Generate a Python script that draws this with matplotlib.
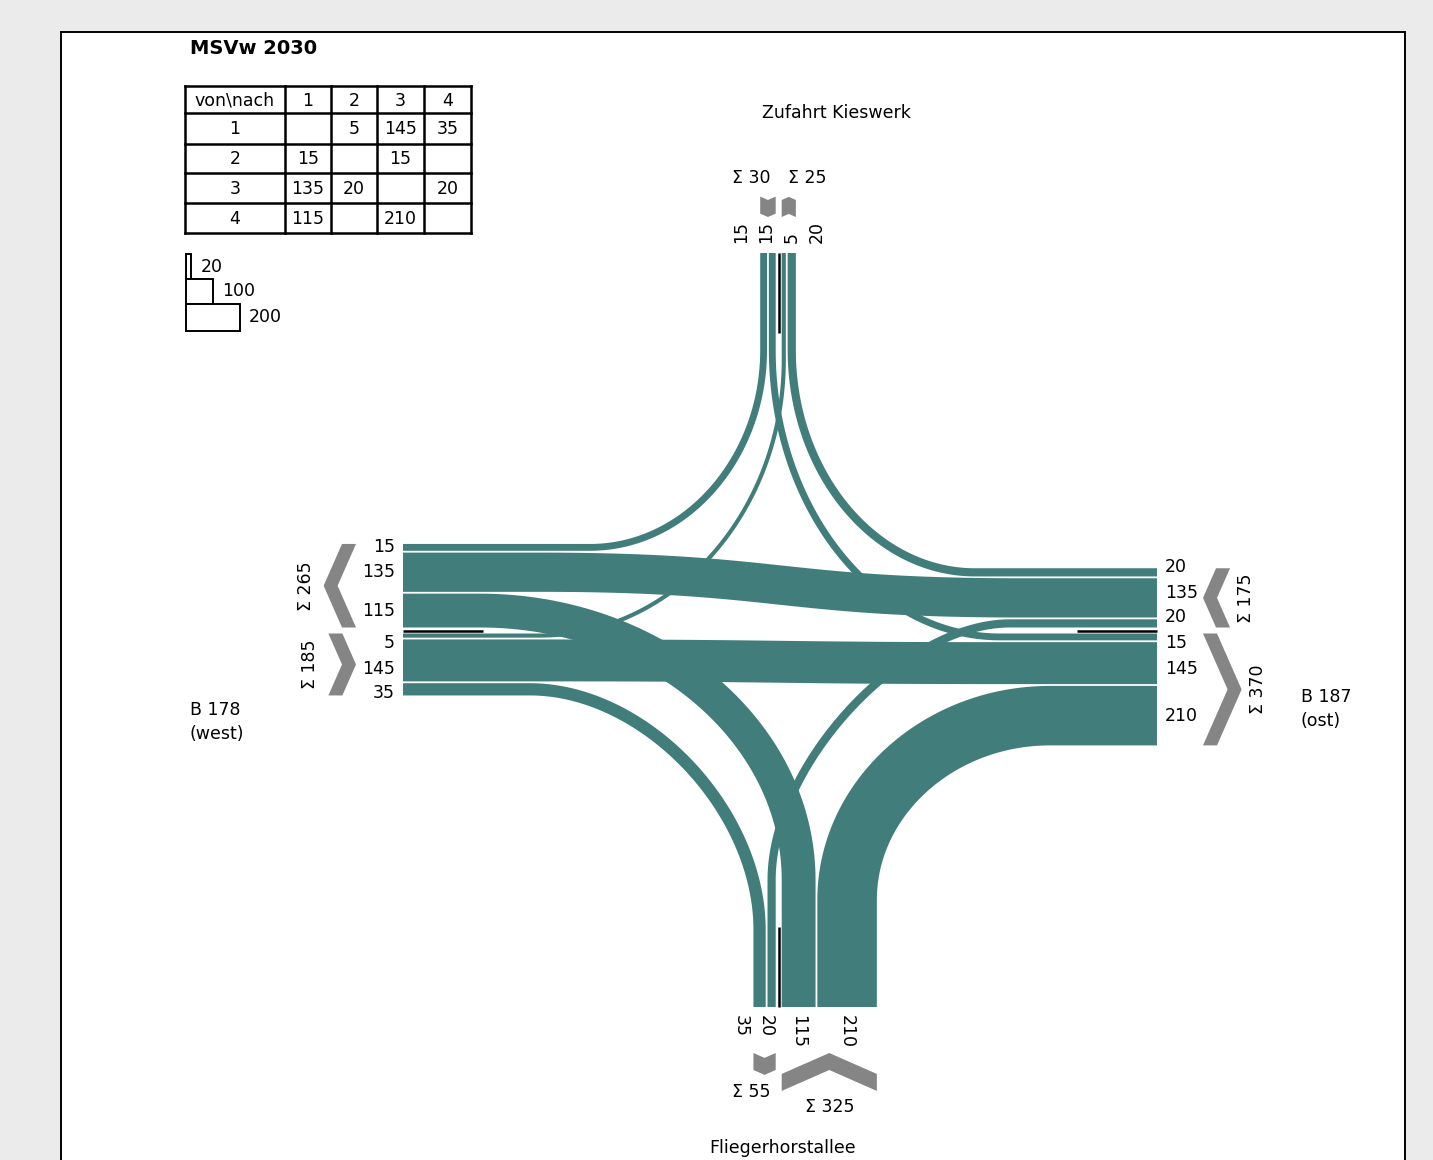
import numpy as np
import matplotlib.pyplot as plt
from matplotlib.patches import Polygon, Rectangle

# Knotenstrombelastung MSVw 2030
title = "MSVw 2030"
zones = [1, 2, 3, 4]
# rows = von, cols = nach
flows = np.array([[0, 5, 145, 35],
                  [15, 0, 15, 0],
                  [135, 20, 0, 20],
                  [115, 0, 210, 0]])
legend_vals = [20, 100, 200]
arm_west = ["B 178", "(west)"]
arm_north = "Zufahrt Kieswerk"
arm_east = ["B 187", "(ost)"]
arm_south = "Fliegerhorstallee"

TEAL = '#417e7b'
GREY = '#858585'
FS = 12.5

K, PAD, GAP, HALF = 0.27, 2.8, 1.8, 3.0
XL, XR, YT, YB = 403, 1157, 253, 1007
XC, YC = 778.7, 630.5


def q(a, b):
    return flows[a - 1, b - 1]


def wid(v):
    return K * v + PAD


# lanes from centre line outward (left turns inside, right turns outside)
lanes = {
    'W_in': ([(4, 1), (3, 1), (2, 1)], -1, YC),
    'W_out': ([(1, 2), (1, 3), (1, 4)], 1, YC),
    'E_out': ([(3, 4), (3, 1), (3, 2)], -1, YC),
    'E_in': ([(2, 3), (1, 3), (4, 3)], 1, YC),
    'N_out': ([(2, 3), (2, 1)], -1, XC),
    'N_in': ([(1, 2), (3, 2)], 1, XC),
    'S_in': ([(3, 4), (1, 4)], -1, XC),
    'S_out': ([(4, 1), (4, 3)], 1, XC),
}
arm_of = {1: 'W', 2: 'N', 3: 'E', 4: 'S'}

pos = {}
groups = {}
for key, (order, sign, c0) in lanes.items():
    p = c0 + sign * HALF
    start = p
    for f in order:
        w = wid(q(*f))
        pos[(f, key[0])] = p + sign * w / 2
        p = p + sign * w
        end = p
        p += sign * GAP
    groups[key] = (min(start, end), max(start, end))


def bez(p0, c1, c2, p3, n=80):
    t = np.linspace(0, 1, n)[:, None]
    return ((1 - t) ** 3 * p0 + 3 * (1 - t) ** 2 * t * c1
            + 3 * (1 - t) * t ** 2 * c2 + t ** 3 * p3)


def seg(a, b, n=10):
    t = np.linspace(0, 1, n)[:, None]
    return a + (b - a) * t


def ribbon(pts, w, ax):
    keep = np.r_[True, np.any(np.abs(np.diff(pts, axis=0)) > 1e-9, axis=1)]
    pts = pts[keep]
    d = np.gradient(pts, axis=0)
    d /= np.hypot(d[:, 0], d[:, 1])[:, None]
    nrm = np.c_[-d[:, 1], d[:, 0]]
    h = w / 2
    poly = np.vstack([pts + nrm * h, (pts - nrm * h)[::-1]])
    ax.add_patch(Polygon(poly, closed=True, fc=TEAL, ec='none', lw=0, zorder=2))


# curve start points: (x where horizontal leg ends, y where vertical leg ends, k)
turns = {(1, 2): (540, 360, .55), (1, 4): (530, 930, .5),
         (2, 1): (590, 350, .55), (2, 3): (1000, 350, .55),
         (3, 2): (975, 350, .55), (3, 4): (1010, 880, .45),
         (4, 1): (480, 880, .55), (4, 3): (1050, 900, .55)}
straights = {(1, 3): (560, 1000, .5), (3, 1): (540, 1020, .5)}
xarm = {'W': XL, 'E': XR}
yarm = {'N': YT, 'S': YB}

fig = plt.figure(figsize=(14.33, 11.6), dpi=100, facecolor='#ebebeb')
ax = fig.add_axes([0, 0, 1, 1])
ax.set_xlim(0, 1433)
ax.set_ylim(1160, 0)
ax.axis('off')
ax.add_patch(Rectangle((61, 32), 1344, 1200, fc='white', ec='black', lw=1.4, zorder=0))

for a in zones:
    for b in zones:
        v = q(a, b)
        if v == 0:
            continue
        f = (a, b)
        w = wid(v)
        if f in straights:
            x0, x1, k = straights[f]
            yl, yr = pos[(f, 'W')], pos[(f, 'E')]
            A, P0 = np.array([XL, yl]), np.array([x0, yl])
            P3, B = np.array([x1, yr]), np.array([XR, yr])
            dx = x1 - x0
            pts = np.vstack([seg(A, P0), bez(P0, P0 + [k * dx, 0], P3 - [k * dx, 0], P3), seg(P3, B)])
        else:
            xh, yv, k = turns[f]
            ha_ = arm_of[a] if arm_of[a] in 'WE' else arm_of[b]
            va_ = arm_of[b] if ha_ == arm_of[a] else arm_of[a]
            yh, xv = pos[(f, ha_)], pos[(f, va_)]
            A, P0 = np.array([xarm[ha_], yh]), np.array([xh, yh])
            C = np.array([xv, yh])
            P3, B = np.array([xv, yv]), np.array([xv, yarm[va_]])
            pts = np.vstack([seg(A, P0), bez(P0, P0 + k * (C - P0), P3 + k * (C - P3), P3), seg(P3, B)])
        ribbon(pts, w, ax)

# separators
ax.plot([XL, XL + 80], [YC, YC], color='black', lw=1.8, zorder=3, solid_capstyle='butt')
ax.plot([XR - 80, XR], [YC, YC], color='black', lw=1.8, zorder=3, solid_capstyle='butt')
ax.plot([XC, XC], [YT, YT + 80], color='black', lw=1.8, zorder=3, solid_capstyle='butt')
ax.plot([XC, XC], [YB - 80, YB], color='black', lw=1.8, zorder=3, solid_capstyle='butt')


def spread(cs, sign, c0, first=13, step=25):
    out = []
    lim = c0 + sign * first
    for c in cs:
        p = c if (c - lim) * sign >= 0 else lim
        out.append(p)
        lim = p + sign * step
    return out


# lane labels
for key, (order, sign, c0) in lanes.items():
    arm = key[0]
    cs = [pos[(f, arm)] for f in order]
    ps = spread(cs, sign, c0)
    for f, p in zip(order, ps):
        s = str(q(*f))
        if arm == 'W':
            ax.text(XL - 8, p, s, ha='right', va='center', fontsize=FS)
        elif arm == 'E':
            ax.text(XR + 8, p, s, ha='left', va='center', fontsize=FS)
        elif arm == 'N':
            ax.text(p, YT - 10, s, ha='center', va='bottom', rotation=90, fontsize=FS)
        else:
            ax.text(p, YB + 8, s, ha='center', va='top', rotation=-90, fontsize=FS)


def chevron(lo, hi, back, s, t, d, horiz):
    m = (lo + hi) / 2
    pts = [(back, lo), (back + s * t, lo), (back + s * (t + d), m),
           (back + s * t, hi), (back, hi), (back + s * d, m)]
    if not horiz:
        pts = [(y, x) for x, y in pts]
    ax.add_patch(Polygon(pts, closed=True, fc=GREY, ec='none', zorder=2))


# sums with chevrons: (group, anchor, away sign, thickness)
chev = {'W_in': (356, -1, 14), 'W_out': (356, -1, 14),
        'E_out': (1203, 1, 14), 'E_in': (1203, 1, 14),
        'N_out': (217, -1, 17), 'N_in': (217, -1, 17),
        'S_in': (1053, 1, 17), 'S_out': (1053, 1, 17)}
for key, (anchor, away, t) in chev.items():
    order = lanes[key][0]
    total = sum(q(*f) for f in order)
    lo, hi = groups[key]
    d = 0.22 * (hi - lo)
    s = away if key.endswith('in') else -away
    back = anchor if s == away else anchor - s * (t + d)
    horiz = key[0] in 'WE'
    chevron(lo, hi, back, s, t, d, horiz)
    far = anchor + away * (t + d)
    lab = f'\u03a3 {total}'
    m = (lo + hi) / 2
    if key[0] == 'W':
        ax.text(far - 18, m, lab, rotation=90, ha='center', va='center', fontsize=FS)
    elif key[0] == 'E':
        ax.text(far + 16, m, lab, rotation=90, ha='center', va='center', fontsize=FS)
    elif key[0] == 'N':
        if key == 'N_out':
            ax.text(XC - 8, far - 19, lab, ha='right', va='center', fontsize=FS)
        else:
            ax.text(XC + 9, far - 19, lab, ha='left', va='center', fontsize=FS)
    else:
        if key == 'S_in':
            ax.text(XC - 8, far + 17, lab, ha='right', va='center', fontsize=FS)
        else:
            ax.text(m, far + 16, lab, ha='center', va='center', fontsize=FS)

# arm names
ax.text(190, 710, arm_west[0], ha='left', va='center', fontsize=FS)
ax.text(190, 734, arm_west[1], ha='left', va='center', fontsize=FS)
ax.text(1301, 697, arm_east[0], ha='left', va='center', fontsize=FS)
ax.text(1301, 721, arm_east[1], ha='left', va='center', fontsize=FS)
ax.text(836, 113, arm_north, ha='center', va='center', fontsize=FS)
ax.text(783, 1148, arm_south, ha='center', va='center', fontsize=FS)

# title
ax.text(190, 48, title, ha='left', va='center', fontsize=14, fontweight='bold')

# OD table
cols = [185, 285, 331, 377, 424, 471]
rows = [86, 113, 144, 173, 203, 233]
for x in cols:
    ax.plot([x, x], [rows[0], rows[-1]], color='black', lw=1.8, zorder=3)
for y in rows:
    ax.plot([cols[0], cols[-1]], [y, y], color='black', lw=1.8, zorder=3)
header = ['von\\nach'] + [str(z) for z in zones]
for j, h in enumerate(header):
    ax.text((cols[j] + cols[j + 1]) / 2, (rows[0] + rows[1]) / 2 + 1, h,
            ha='center', va='center', fontsize=FS)
for i, z in enumerate(zones):
    yy = (rows[i + 1] + rows[i + 2]) / 2 + 1
    ax.text((cols[0] + cols[1]) / 2, yy, str(z), ha='center', va='center', fontsize=FS)
    for j in range(4):
        v = flows[i, j]
        if v:
            ax.text((cols[j + 1] + cols[j + 2]) / 2, yy, str(v), ha='center', va='center', fontsize=FS)

# width legend
ly = [254, 279, 304, 331]
for i, v in enumerate(legend_vals):
    ax.add_patch(Rectangle((186, ly[i]), K * v, ly[i + 1] - ly[i], fc='white', ec='black', lw=1.4, zorder=3))
    ax.text(186 + K * v + 9, (ly[i] + ly[i + 1]) / 2, str(v), ha='left', va='center', fontsize=FS)

fig.savefig('out.png', dpi=100, facecolor=fig.get_facecolor())
